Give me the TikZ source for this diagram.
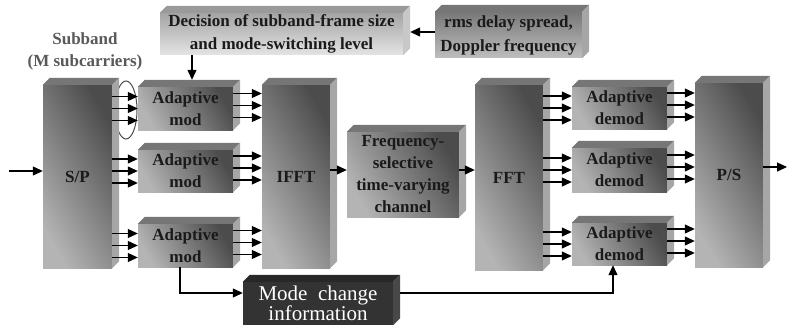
\documentclass[tikz,border=0pt]{standalone}
\usepackage{fontspec}
\setmainfont{Liberation Serif}[BoldFont={Liberation Serif Bold}]
\usetikzlibrary{arrows.meta,calc,shapes.geometric}
\definecolor{txt}{HTML}{1A1A1A}
\definecolor{flight}{HTML}{B4B4B4}
\definecolor{fdark}{HTML}{4C4C4C}
\definecolor{topg}{HTML}{767676}
\definecolor{sideg}{HTML}{A6A6A6}
\definecolor{declight}{HTML}{E4E4E4}
\definecolor{decdark}{HTML}{A4A4A4}
\definecolor{dectop}{HTML}{9A9A9A}
\definecolor{decside}{HTML}{C8C8C8}
\definecolor{rmslight}{HTML}{BEBEBE}
\definecolor{rmsdark}{HTML}{787878}
\definecolor{modefill}{HTML}{333333}
\definecolor{modetop}{HTML}{282828}
\definecolor{modeside}{HTML}{484848}
\begin{document}
\begin{tikzpicture}[x=1pt,y=-1pt]
	\tikzstyle{every node}+=[inner sep=0pt,align=center,text=txt,font=\fontsize{17}{22}\selectfont\bfseries]
	\tikzstyle{blk}=[shading=axis,top color=fdark,bottom color=flight,shading angle=-60]
	\tikzstyle{arr}=[-{Triangle[length=10pt,width=9pt]},line width=1.1pt]
	\useasboundingbox (0,0) rectangle (787,329);
	\node [blk,minimum width=69,minimum height=183] (sp) at (77.5,176.5) {S/P};
	\node [blk,minimum width=95,minimum height=43] (m1) at (185.5,108.5) {Adaptive\\mod};
	\node [blk,minimum width=95,minimum height=42] (m2) at (185.5,171) {Adaptive\\mod};
	\node [blk,minimum width=95,minimum height=43] (m3) at (185.5,245.5) {Adaptive\\mod};
	\node [blk,minimum width=68,minimum height=183] (ifft) at (296,176.5) {IFFT};
	\node [blk,minimum width=112,minimum height=85] (chan) at (403,174.5) {Frequency-\\selective\\time-varying\\channel};
	\node [blk,minimum width=68,minimum height=185] (fft) at (509,177.5) {FFT};
	\node [blk,minimum width=95,minimum height=42] (d1) at (619.5,108) {Adaptive\\demod};
	\node [blk,minimum width=95,minimum height=44] (d2) at (619.5,170) {Adaptive\\demod};
	\node [blk,minimum width=95,minimum height=42] (d3) at (619.5,244) {Adaptive\\demod};
	\node [blk,minimum width=68,minimum height=184] (ps) at (729,175) {P/S};
	\node [shading=axis,top color=decdark,bottom color=declight,minimum width=243,minimum height=42,font=\fontsize{17}{23}\selectfont\bfseries] (dec) at (281.5,34) {Decision of subband-frame size\\and mode-switching level};
	\node [shading=axis,top color=rmsdark,bottom color=rmslight,minimum width=147,minimum height=46,font=\fontsize{17}{24}\selectfont\bfseries] (rms) at (508.5,35) {rms delay spread,\\Doppler frequency};
	\node [fill=modefill,text=white,minimum width=150,minimum height=43,font=\fontsize{21}{17}\selectfont] (mode) at (318,303.5) {Mode~ change\\information};
	\node [text=black!65,font=\fontsize{17}{22}\selectfont\bfseries] (sub) at (85,51) {Subband\\(M subcarriers)};
	\node [draw=black!70,line width=1pt,ellipse,minimum width=22,minimum height=58] (grp) at (126,110) {};
	\foreach \n/\topc/\sidec in {sp/topg/sideg,m1/topg/sideg,m2/topg/sideg,m3/topg/sideg,ifft/topg/sideg,chan/topg/sideg,fft/topg/sideg,d1/topg/sideg,d2/topg/sideg,d3/topg/sideg,ps/topg/sideg,dec/dectop/decside,rms/topg/sideg,mode/modetop/modeside}
		{
		\fill [\topc] (\n.north west) -- ++(7,-7) -- ($(\n.north east)+(7,-7)$) -- (\n.north east) -- cycle;
		\fill [\sidec] (\n.north east) -- ++(7,-7) -- ($(\n.south east)+(7,-7)$) -- (\n.south east) -- cycle;
		}
	\foreach \b in {m1,m2,m3}
		{
		\foreach \o in {-12,0,12}
			\draw [arr] ($(sp.east |- \b.west)+(0,\o)$) -- ($(\b.west)+(0,\o)$);
		\foreach \o in {-15,-3,9}
			\draw [arr] ($(\b.east)+(0,\o)$) -- ($(ifft.west |- \b.east)+(0,\o)$);
		}
	\foreach \b in {d1,d2,d3}
		{
		\foreach \o in {-12,0,12}
			\draw [arr] ($(fft.east |- \b.west)+(0,\o)$) -- ($(\b.west)+(0,\o)$);
		\foreach \o in {-15,-3,9}
			\draw [arr] ($(\b.east)+(0,\o)$) -- ($(ps.west |- \b.east)+(0,\o)$);
		}
	\coordinate (in) at (9,171);
	\coordinate (out) at (787,167);
	\coordinate (m1top) at ($(m1.north)+(6.5,-7)$);
	\draw [arr] (in) -- (in -| sp.west);
	\draw [arr] (ps.east |- out) -- (out);
	\draw [arr] ($(ifft.east |- chan.west)+(0,-4.5)$) -- ($(chan.west)+(0,-4.5)$);
	\draw [arr] ($(chan.east)+(0,-4.5)$) -- ($(fft.west |- chan.east)+(0,-4.5)$);
	\draw [arr] ($(rms.west)+(0,-3)$) -- ($(dec.east |- rms.west)+(7,-3)$);
	\draw [arr] (dec.south -| m1top) -- (m1top);
	\draw [arr] ($(m3.south)+(-5.5,0)$) |- ($(mode.west)+(0,-10.5)$);
	\draw [arr] ($(mode.east)+(7,-10.5)$) -| ($(d3.south)+(-6.5,0)$);
\end{tikzpicture}
\end{document}
